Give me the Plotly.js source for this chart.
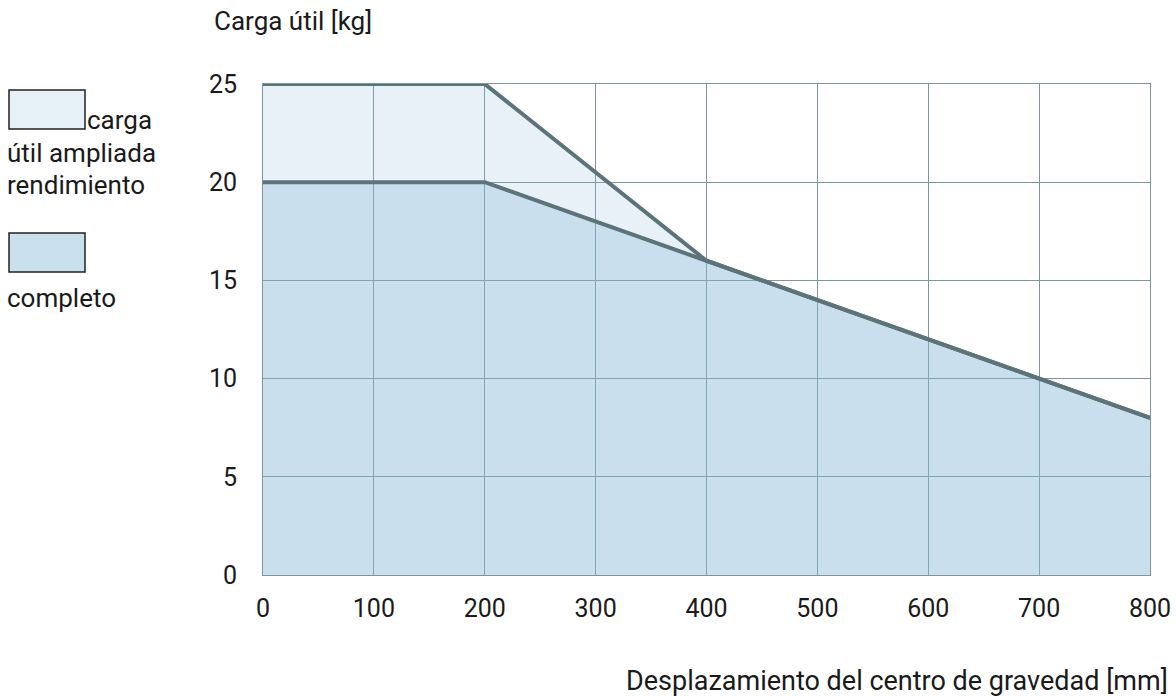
<!DOCTYPE html>
<html>
<head>
<meta charset="utf-8">
<script src="https://cdn.plot.ly/plotly-3.0.1.min.js"></script>
<style>html,body{margin:0;padding:0;background:#fff;}#chart{width:1176px;height:697px;}</style>
</head>
<body>
<div id="chart"></div>
<script>
const offsets = [0, 200, 400, 500, 600, 700, 800];
const extendedLoad = [25, 25, 16, 14, 12, 10, 8];
const fullLoad = [20, 20, 16, 14, 12, 10, 8];
const xTicks = [0, 100, 200, 300, 400, 500, 600, 700, 800];
const yTicks = [0, 5, 10, 15, 20, 25];
const legendLine1 = ["carga", "útil ampliada", "rendimiento"];
const legendLine2 = ["completo"];
const yTitle = "Carga útil [kg]";
const xTitle = "Desplazamiento del centro de gravedad [mm]";

const lineColor = "#5b7479";
const gridColor = "#7f959b";
const lightFill = "rgba(135,185,215,0.2)";
const darkFill = "rgba(135,185,215,0.45)";
const font = "Roboto, 'Noto Sans', sans-serif";
const textColor = "#1a1a1a";

const M = {l: 263, r: 26, t: 84, b: 122};
const W = 1176, H = 697;
const plotW = W - M.l - M.r, plotH = H - M.t - M.b;
function px(p) { return (p - M.l) / plotW; }
function py(p) { return 1 - (p - M.t) / plotH; }

const traces = [
  {x: offsets, y: fullLoad, type: "scatter", mode: "lines", fill: "tozeroy",
   fillcolor: darkFill, line: {color: lineColor, width: 4}, hoverinfo: "skip"},
  {x: offsets, y: extendedLoad, type: "scatter", mode: "lines", fill: "tonexty",
   fillcolor: lightFill, line: {color: lineColor, width: 4}, hoverinfo: "skip"}
];

function note(text, x, y, xanchor, size) {
  return {text: text, xref: "paper", yref: "paper", x: px(x), y: py(y),
    xanchor: xanchor || "left", yanchor: "middle", showarrow: false,
    font: {size: size || 26, color: textColor}};
}

const annotations = [
  note(yTitle, 212, 21),
  note(xTitle, 1170, 681, "right", 27),
  note(legendLine1[0], 85, 120),
  note(legendLine1[1], 5, 153),
  note(legendLine1[2], 5, 185),
  note(legendLine2[0], 5, 298)
];

const layout = {
  width: W, height: H,
  margin: M,
  paper_bgcolor: "#fff", plot_bgcolor: "#fff",
  showlegend: false,
  font: {family: font, size: 25, color: textColor},
  xaxis: {range: [0, 800], tickvals: xTicks, ticktext: xTicks.map(String),
    showgrid: true, gridcolor: gridColor, gridwidth: 1, zeroline: false,
    showline: true, mirror: true, linecolor: gridColor, linewidth: 1,
    ticks: "", ticklabelstandoff: 11, tickfont: {size: 25, color: textColor}, fixedrange: true},
  yaxis: {range: [0, 25], tickvals: yTicks, ticktext: yTicks.map(String),
    showgrid: true, gridcolor: gridColor, gridwidth: 1, zeroline: false,
    showline: true, mirror: true, linecolor: gridColor, linewidth: 1,
    ticks: "", ticklabelstandoff: 20, tickfont: {size: 25, color: textColor}, fixedrange: true},
  annotations: annotations,
  shapes: [
    {type: "rect", xref: "paper", yref: "paper", x0: px(9), x1: px(85), y0: py(129), y1: py(90),
     fillcolor: "#e6f1f8", line: {color: "#222", width: 1.5}},
    {type: "rect", xref: "paper", yref: "paper", x0: px(9), x1: px(85), y0: py(272), y1: py(233),
     fillcolor: "#c9e0ed", line: {color: "#222", width: 1.5}}
  ]
};

Plotly.newPlot("chart", traces, layout, {displayModeBar: false, staticPlot: true});
</script>
</body>
</html>
